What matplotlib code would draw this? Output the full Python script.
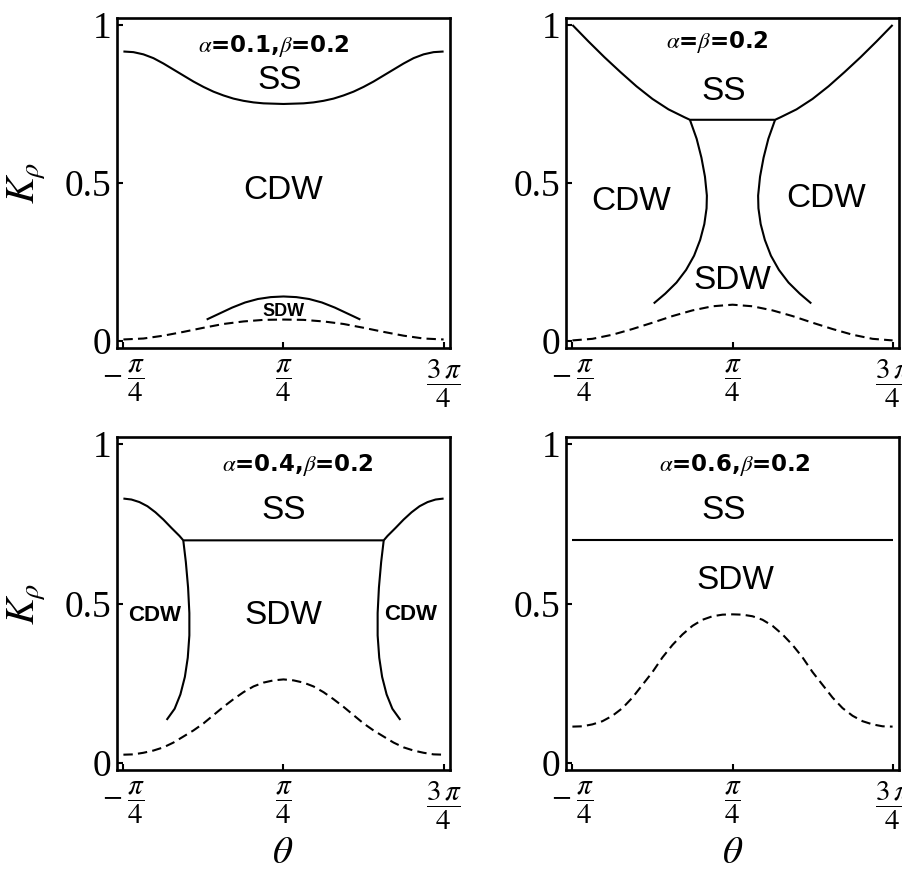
import numpy as np
import matplotlib
matplotlib.use("Agg")
import matplotlib.pyplot as plt

plt.rcParams['mathtext.fontset'] = 'stix'
plt.rcParams['font.family'] = ['Liberation Sans', 'DejaVu Sans']

# ---------------- data (theta in units of pi, K_rho values) ----------------
TH16 = np.linspace(-0.25, 0.75, 17)   # sampling grid, step pi/16
TH32 = np.linspace(-0.25, 0.75, 33)   # sampling grid, step pi/32

# Panel 1: alpha=0.1, beta=0.2
p1_ss_th = TH32
p1_ss_k = [0.916, 0.914, 0.907, 0.895, 0.878, 0.859, 0.840, 0.821, 0.804, 0.789, 0.777,
           0.767, 0.760, 0.755, 0.752, 0.751, 0.750, 0.751, 0.752, 0.755, 0.760, 0.767,
           0.777, 0.789, 0.804, 0.821, 0.840, 0.859, 0.878, 0.895, 0.907, 0.914, 0.916]
p1_sdw_th = [0.01, 0.05, 0.09, 0.13, 0.17, 0.21, 0.25, 0.29, 0.33, 0.37, 0.41, 0.45, 0.49]
p1_sdw_k = [0.068, 0.087, 0.106, 0.122, 0.133, 0.139, 0.141, 0.139, 0.133, 0.122, 0.106, 0.087, 0.068]
p1_dash_th = TH16
p1_dash_k = [0.005, 0.008, 0.017, 0.029, 0.042, 0.054, 0.062, 0.067, 0.068,
             0.067, 0.062, 0.054, 0.042, 0.029, 0.017, 0.008, 0.005]

# Panel 2: alpha=beta=0.2
p2_ss_th = [-0.25, -0.2, -0.15, -0.1, -0.05, 0.0, 0.05, 0.1, 0.117,
            0.383, 0.4, 0.45, 0.5, 0.55, 0.6, 0.65, 0.7, 0.75]
p2_ss_k = [1.0, 0.948, 0.898, 0.851, 0.806, 0.766, 0.733, 0.708, 0.70,
           0.70, 0.708, 0.733, 0.766, 0.806, 0.851, 0.898, 0.948, 1.0]
p2_bl_th = [0.117, 0.138, 0.153, 0.164, 0.170, 0.169, 0.162, 0.149, 0.130, 0.105, 0.075, 0.040, 0.004]
p2_br_th = [0.383, 0.362, 0.347, 0.336, 0.330, 0.331, 0.338, 0.351, 0.370, 0.395, 0.425, 0.460, 0.496]
p2_b_k = [0.70, 0.64, 0.58, 0.52, 0.46, 0.42, 0.37, 0.32, 0.27, 0.225, 0.185, 0.150, 0.119]
p2_dash_th = TH16
p2_dash_k = [0.002, 0.007, 0.020, 0.038, 0.058, 0.079, 0.097, 0.110, 0.115,
             0.110, 0.097, 0.079, 0.058, 0.038, 0.020, 0.007, 0.002]

# Panel 3: alpha=0.4, beta=0.2
p3_ss_th = [-0.25, -0.225, -0.2, -0.175, -0.15, -0.125, -0.1, -0.075, -0.063,
            0.563, 0.575, 0.6, 0.625, 0.65, 0.675, 0.7, 0.725, 0.75]
p3_ss_k = [0.829, 0.826, 0.818, 0.805, 0.786, 0.763, 0.737, 0.712, 0.698,
           0.698, 0.712, 0.737, 0.763, 0.786, 0.805, 0.818, 0.826, 0.829]
p3_bl_th = [-0.063, -0.055, -0.048, -0.044, -0.044, -0.049, -0.058, -0.072, -0.090, -0.115]
p3_br_th = [0.563, 0.555, 0.548, 0.544, 0.544, 0.549, 0.558, 0.572, 0.590, 0.615]
p3_b_k = [0.698, 0.63, 0.55, 0.47, 0.40, 0.33, 0.27, 0.215, 0.17, 0.135]
p3_dash_th = TH32
p3_dash_k = [0.026, 0.027, 0.032, 0.039, 0.049, 0.064, 0.083, 0.102, 0.124, 0.150, 0.176,
             0.200, 0.222, 0.240, 0.252, 0.259, 0.262, 0.259, 0.252, 0.240, 0.222, 0.200,
             0.176, 0.150, 0.124, 0.102, 0.083, 0.064, 0.049, 0.039, 0.032, 0.027, 0.026]

# Panel 4: alpha=0.6, beta=0.2
p4_ss_th = [-0.25, 0.75]
p4_ss_k = [0.698, 0.698]
p4_dash_th = TH32
p4_dash_k = [0.114, 0.115, 0.121, 0.131, 0.148, 0.172, 0.205, 0.245, 0.285, 0.331, 0.370,
             0.403, 0.430, 0.449, 0.460, 0.465, 0.466, 0.465, 0.460, 0.449, 0.430, 0.403,
             0.370, 0.331, 0.285, 0.245, 0.205, 0.172, 0.148, 0.131, 0.121, 0.115, 0.114]

titles = [r'$\alpha$=0.1,$\beta$=0.2', r'$\alpha$=$\beta$=0.2',
          r'$\alpha$=0.4,$\beta$=0.2', r'$\alpha$=0.6,$\beta$=0.2']
xtick_vals = [-0.25, 0.25, 0.75]
xtick_labels = [r'$-\;\dfrac{\pi}{4}$', r'$\dfrac{\pi}{4}$', r'$\dfrac{3\,\pi}{4}$']
ytick_vals = [0, 0.5, 1]
ytick_labels = ['0', '0.5', '1']

# ---------------- figure ----------------
W, H = 902, 873
fig = plt.figure(figsize=(W / 100, H / 100), dpi=100)

def px_axes(left, top, right, bottom):
    return fig.add_axes([left / W, 1 - bottom / H, (right - left) / W, (bottom - top) / H])

axes = [px_axes(117, 18, 450, 348), px_axes(566, 18, 899, 348),
        px_axes(117, 437, 450, 770), px_axes(566, 437, 899, 770)]

LW = 1.5
def solid(ax, th, k):
    ax.plot(np.pi * np.asarray(th), k, color='black', lw=LW, solid_capstyle='butt')

def dashed(ax, th, k):
    ax.plot(np.pi * np.asarray(th), k, color='black', lw=LW, dashes=(4.5, 2.5))

for ax in axes:
    pad = 0.02 * np.pi
    ax.set_xlim(-np.pi / 4 - pad, 3 * np.pi / 4 + pad)
    ax.set_ylim(-0.022, 1.022)
    ax.set_xticks(np.pi * np.array(xtick_vals))
    ax.set_xticklabels(xtick_labels, fontsize=21)
    ax.set_yticks(ytick_vals)
    ax.set_yticklabels(ytick_labels, fontsize=27, family='Liberation Serif')
    ax.tick_params(direction='in', length=4, width=1.5, top=False, right=False)
    ax.tick_params(axis='x', pad=7)
    ax.tick_params(axis='y', pad=4)
    for s in ax.spines.values():
        s.set_linewidth(1.9)

SHIFT = -0.012
def lab(ax, d, k, s, size=24, weight='normal', family='Liberation Sans'):
    ax.text(np.pi * (0.25 + d), k + SHIFT, s, ha='center', va='center', fontsize=size,
            fontweight=weight, family=family)

def title(ax, d, k, s):
    lab(ax, d, k + 0.004, s, 16.5, 'bold', 'DejaVu Sans')

# Panel 1
a = axes[0]
solid(a, p1_ss_th, p1_ss_k)
solid(a, p1_sdw_th, p1_sdw_k)
dashed(a, p1_dash_th, p1_dash_k)
title(a, -0.031, 0.942, titles[0])
lab(a, -0.013, 0.837, 'SS')
lab(a, 0.0, 0.489, 'CDW')
lab(a, 0.0, 0.104, 'SDW', 13, 'bold')

# Panel 2
a = axes[1]
solid(a, p2_ss_th, p2_ss_k)
solid(a, p2_bl_th, p2_b_k)
solid(a, p2_br_th, p2_b_k)
dashed(a, p2_dash_th, p2_dash_k)
title(a, -0.049, 0.955, titles[1])
lab(a, -0.028, 0.800, 'SS')
lab(a, -0.316, 0.453, 'CDW')
lab(a, 0.291, 0.463, 'CDW')
lab(a, 0.0, 0.205, 'SDW')

# Panel 3
a = axes[2]
solid(a, p3_ss_th, p3_ss_k)
solid(a, p3_bl_th, p3_b_k)
solid(a, p3_br_th, p3_b_k)
dashed(a, p3_dash_th, p3_dash_k)
title(a, 0.045, 0.942, titles[2])
lab(a, 0.0, 0.805, 'SS')
lab(a, 0.0, 0.474, 'SDW')
lab(a, -0.402, 0.474, 'CDW', 16, 'bold')
lab(a, 0.396, 0.479, 'CDW', 16, 'bold')

# Panel 4
a = axes[3]
solid(a, p4_ss_th, p4_ss_k)
dashed(a, p4_dash_th, p4_dash_k)
title(a, 0.008, 0.942, titles[3])
lab(a, -0.028, 0.803, 'SS')
lab(a, 0.008, 0.584, 'SDW')

# axis labels
for yc in (183, 604):
    fig.text(27 / W, 1 - yc / H, r'$K_\rho$', rotation=90, fontsize=29, ha='center', va='center')
for xc in (283, 733):
    fig.text(xc / W, 1 - 853 / H, r'$\theta$', fontsize=28, ha='center', va='center')

fig.savefig('out.png', dpi=100)
